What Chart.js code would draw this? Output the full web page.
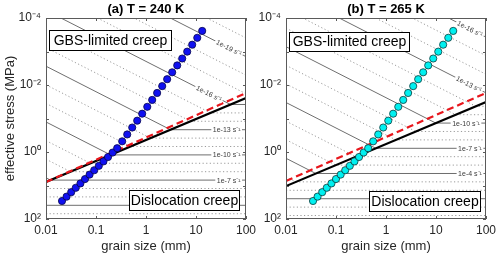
<!DOCTYPE html>
<html>
<head>
<meta charset="utf-8">
<script src="https://cdn.jsdelivr.net/npm/chart.js@4"></script>
<style>
  html, body { margin: 0; padding: 0; background: #fff; }
  #wrap { position: relative; width: 500px; height: 257px; }
  canvas { position: absolute; top: 0; }
</style>
</head>
<body>
<div id="wrap">
  <canvas id="panelA" width="262" height="257" style="left:0"></canvas>
  <canvas id="panelB" width="250" height="257" style="left:250px"></canvas>
</div>
<script>
// axes
const grainRange = [0.01, 100];
const stressRange = [1e-4, 1e2];
const xTicks = [0.01, 0.1, 1, 10, 100];
const xTickLabels = ['0.01', '0.1', '1', '10', '100'];
const yTicks = [1e-4, 1e-2, 1, 1e2];
const yTickLabels = ['10⁻⁴', '10⁻²', '10⁰', '10²'];

// piezometer points (stress is the same for both panels)
const dotStress = [29.0, 21.5, 15.8, 11.7, 8.67, 6.41, 4.73, 3.50, 2.59, 1.91, 1.41, 1.04, 0.771,
  0.480, 0.299, 0.186, 0.116, 0.0719, 0.0448, 0.0279, 0.0173, 0.0108, 0.00671, 0.00418,
  0.00260, 0.00162, 0.00101, 0.000627, 0.000390, 0.000243];
const dotGrainA = [0.0209, 0.0258, 0.0319, 0.0394, 0.0488, 0.0603, 0.0745, 0.0920, 0.114, 0.141, 0.174, 0.215, 0.265,
  0.334, 0.421, 0.530, 0.667, 0.839, 1.06, 1.33, 1.67, 2.11, 2.65, 3.34, 4.21, 5.30, 6.67, 8.39, 10.6, 13.3];
const dotGrainB = [0.0347, 0.0428, 0.0530, 0.0654, 0.0810, 0.100, 0.124, 0.153, 0.189, 0.234, 0.289, 0.357, 0.440,
  0.554, 0.699, 0.880, 1.11, 1.39, 1.76, 2.21, 2.77, 3.50, 4.40, 5.54, 6.99, 8.80, 11.1, 13.9, 17.6, 22.1];

// mechanism boundaries: stress at d = 0.01 and d = 100
const blackStressA = [7.87, 0.0244];
const redStressA = [7.87, 0.0173];
const blackStressB = [10.4, 0.0321];
const redStressB = [7.35, 0.0173];

// strain-rate contours, panel (a): log10 rate, stress at left edge, kink (grain, stress)
const rateExpA = [-21, -20, -19, -18, -17, -16, -15, -14, -13, -12, -11, -10, -9, -8, -7, -6, -5, -4, -3];
const leftStressA = [9.9e-8, 3.56e-7, 1.28e-6, 4.60e-6, 1.65e-5, 5.93e-5, 2.13e-4, 7.65e-4, 2.75e-3, 9.87e-3,
  0.0354, 0.127, 0.457, 1.64, 5.89, 12.3, 21.9, 39.0, 69.5];
const kinkGrainA = [100, 100, 100, 100, 100, 49.0, 19.5, 7.76, 3.09, 1.23, 0.490, 0.195, 0.0776, 0.0309, 0.0123,
  0.01, 0.01, 0.01, 0.01];
const kinkStressA = [1.10e-4, 3.95e-4, 1.42e-3, 5.09e-3, 0.0183, 0.0382, 0.0681, 0.121, 0.216, 0.385,
  0.685, 1.22, 2.17, 3.87, 6.90, 12.3, 21.9, 39.0, 69.5];
const labelRateA = [-19, -16, -13, -10, -7];
const labelGrainA = [45.7, 18.2, 41, 41, 45];

// panel (b)
const rateExpB = [-17, -16, -15, -14, -13, -12, -11, -10, -9, -8, -7, -6, -5, -4, -3, -2, -1, 0, 1];
const leftStressB = [9.33e-8, 3.35e-7, 1.20e-6, 4.33e-6, 1.55e-5, 5.57e-5, 2.00e-4, 7.19e-4, 2.58e-3, 9.27e-3,
  0.0333, 0.120, 0.430, 1.54, 5.53, 13.9, 24.8, 44.2, 78.7];
const kinkGrainB = [100, 100, 100, 100, 100, 62.5, 24.9, 9.91, 3.94, 1.57, 0.625, 0.249, 0.0991, 0.0394, 0.0157,
  0.01, 0.01, 0.01, 0.01];
const kinkStressB = [1.03e-4, 3.72e-4, 1.33e-3, 4.79e-3, 0.0172, 0.0432, 0.0771, 0.137, 0.244, 0.435,
  0.776, 1.38, 2.46, 4.38, 7.78, 13.9, 24.8, 44.2, 78.7];
const labelRateB = [-16, -13, -10, -7, -4];
const labelGrainB = [47.9, 45.7, 39.8, 47.9, 47.9];

const FONT = "'Liberation Sans', Arial, Helvetica, sans-serif";

function contourPoints(p, k) {
  return [
    { x: grainRange[0], y: p.leftStress[k] },
    { x: p.kinkGrain[k], y: p.kinkStress[k] },
    { x: grainRange[1], y: p.kinkStress[k] },
  ];
}

// frame, ticks, contour labels, text boxes, title
const decor = {
  id: 'decor',
  afterDraw(chart, args, opts) {
    const p = opts.panel;
    const { ctx, chartArea: a } = chart;
    const xs = chart.scales.x, ys = chart.scales.y;
    ctx.save();

    // contour labels
    ctx.font = '7px ' + FONT;
    ctx.textAlign = 'center';
    ctx.textBaseline = 'middle';
    p.labelRate.forEach((n, i) => {
      const k = p.rateExp.indexOf(n);
      const pts = contourPoints(p, k).map(d => [xs.getPixelForValue(d.x), ys.getPixelForValue(d.y)]);
      const lx = xs.getPixelForValue(p.labelGrain[i]);
      let seg = 0;
      for (let s = 0; s < pts.length - 1; s++) {
        if (lx >= pts[s][0] && lx <= pts[s + 1][0] && pts[s + 1][0] > pts[s][0]) seg = s;
      }
      const [x0, y0] = pts[seg], [x1, y1] = pts[seg + 1];
      const ly = y0 + (y1 - y0) * (lx - x0) / (x1 - x0);
      const ang = Math.atan2(y1 - y0, x1 - x0);
      const txt = '1e' + n + ' s⁻¹';
      const w = ctx.measureText(txt).width;
      ctx.save();
      ctx.translate(lx, ly);
      ctx.rotate(ang);
      ctx.fillStyle = '#fff';
      ctx.fillRect(-w / 2 - 1.5, -3.5, w + 3, 7);
      ctx.fillStyle = '#3a3a3a';
      ctx.fillText(txt, 0, 0.5);
      ctx.restore();
    });

    // text boxes
    p.boxes.forEach(b => {
      const bx = a.left + b.left, by = a.top + b.top;
      ctx.fillStyle = '#fff';
      ctx.fillRect(bx, by, b.w, b.h);
      ctx.strokeStyle = '#000';
      ctx.lineWidth = 1;
      ctx.strokeRect(bx + 0.5, by + 0.5, b.w - 1, b.h - 1);
      ctx.fillStyle = '#000';
      ctx.font = '14px ' + FONT;
      ctx.textAlign = 'center';
      ctx.textBaseline = 'middle';
      ctx.fillText(b.text, bx + b.w / 2, by + b.h / 2 + 0.5);
    });

    // frame
    ctx.strokeStyle = '#5a5a5a';
    ctx.lineWidth = 1;
    ctx.strokeRect(a.left + 0.5, a.top + 0.5, a.width - 1, a.height - 1);

    // inward ticks
    ctx.beginPath();
    xTicks.forEach(v => {
      const px = Math.round(xs.getPixelForValue(v)) + 0.5;
      ctx.moveTo(px, a.bottom); ctx.lineTo(px, a.bottom - 3);
      ctx.moveTo(px, a.top); ctx.lineTo(px, a.top + 3);
    });
    for (let e = -4; e <= 2; e++) {
      const py = Math.round(ys.getPixelForValue(Math.pow(10, e))) + 0.5;
      ctx.moveTo(a.left, py); ctx.lineTo(a.left + 3, py);
      ctx.moveTo(a.right, py); ctx.lineTo(a.right - 3, py);
    }
    ctx.stroke();

    // title
    ctx.fillStyle = '#000';
    ctx.font = 'bold 13px ' + FONT;
    ctx.textAlign = 'center';
    ctx.textBaseline = 'middle';
    ctx.fillText(p.title, (a.left + a.right) / 2, 9);
    ctx.restore();
  }
};

function buildPanel(id, p) {
  const datasets = [];
  datasets.push({
    data: p.dotGrain.map((g, i) => ({ x: g, y: dotStress[i] })),
    showLine: false, pointRadius: 3.6, pointBackgroundColor: p.dotColor,
    pointBorderColor: p.dotEdge, pointBorderWidth: 0.8, order: 0,
  });
  datasets.push({
    data: [{ x: grainRange[0], y: p.red[0] }, { x: grainRange[1], y: p.red[1] }],
    showLine: true, borderColor: '#e8161c', borderWidth: 2.2, borderDash: [7, 4],
    pointRadius: 0, order: 1,
  });
  datasets.push({
    data: [{ x: grainRange[0], y: p.black[0] }, { x: grainRange[1], y: p.black[1] }],
    showLine: true, borderColor: '#000', borderWidth: 2.2, pointRadius: 0, order: 2,
  });
  p.rateExp.forEach((n, k) => {
    const solid = (n + 1) % 3 === 0;
    datasets.push({
      data: contourPoints(p, k),
      showLine: true, pointRadius: 0, order: 3,
      borderColor: solid ? '#6e6e6e' : '#8e8e8e',
      borderWidth: solid ? 1 : 0.9,
      borderDash: solid ? [] : [1.2, 2.4],
    });
  });

  return new Chart(document.getElementById(id), {
    type: 'scatter',
    data: { datasets },
    options: {
      responsive: false,
      animation: false,
      events: [],
      layout: { padding: { top: 18, right: p.padRight, bottom: 0, left: 0 } },
      plugins: { legend: { display: false }, tooltip: { enabled: false }, decor: { panel: p } },
      scales: {
        x: {
          type: 'logarithmic', min: grainRange[0], max: grainRange[1],
          afterBuildTicks: s => { s.ticks = xTicks.map(v => ({ value: v })); },
          ticks: {
            callback: (v, i) => xTickLabels[i], autoSkip: false, maxRotation: 0,
            font: { family: FONT, size: 12 }, color: '#262626', padding: 4,
          },
          grid: { display: false, drawTicks: false },
          border: { display: false },
          title: {
            display: true, text: 'grain size (mm)', color: '#262626',
            font: { family: FONT, size: 13 }, padding: { top: 0, bottom: 3 },
          },
          afterFit: s => { s.height = 38; s.paddingLeft = 0; s.paddingRight = 0; },
        },
        y: {
          type: 'logarithmic', reverse: true, min: stressRange[0], max: stressRange[1],
          afterBuildTicks: s => { s.ticks = yTicks.map(v => ({ value: v })); },
          ticks: {
            callback: (v, i) => yTickLabels[i], autoSkip: false,
            font: { family: FONT, size: 12 }, color: '#262626', padding: 5,
          },
          grid: { display: false, drawTicks: false },
          border: { display: false },
          title: {
            display: p.yTitle, text: 'effective stress (MPa)', color: '#262626',
            font: { family: FONT, size: 13 }, padding: { top: 3, bottom: 0 },
          },
          afterFit: s => { s.width = p.yWidth; s.paddingTop = 0; s.paddingBottom = 0; },
        },
      },
    },
    plugins: [decor],
  });
}

buildPanel('panelA', {
  title: '(a) T = 240 K',
  dotGrain: dotGrainA, dotColor: '#1010f0', dotEdge: '#08084a',
  black: blackStressA, red: redStressA,
  rateExp: rateExpA, leftStress: leftStressA, kinkGrain: kinkGrainA, kinkStress: kinkStressA,
  labelRate: labelRateA, labelGrain: labelGrainA,
  yTitle: true, yWidth: 46, padRight: 16,
  boxes: [
    { text: 'GBS-limited creep', left: 3, top: 12, w: 123, h: 21 },
    { text: 'Dislocation creep', left: 83, top: 172, w: 111, h: 21 },
  ],
});

buildPanel('panelB', {
  title: '(b) T = 265 K',
  dotGrain: dotGrainB, dotColor: '#00f0f0', dotEdge: '#0c3a3a',
  black: blackStressB, red: redStressB,
  rateExp: rateExpB, leftStress: leftStressB, kinkGrain: kinkGrainB, kinkStress: kinkStressB,
  labelRate: labelRateB, labelGrain: labelGrainB,
  yTitle: false, yWidth: 36, padRight: 14,
  boxes: [
    { text: 'GBS-limited creep', left: 3, top: 14, w: 121, h: 20 },
    { text: 'Dislocation creep', left: 83, top: 173, w: 112, h: 21 },
  ],
});
</script>
</body>
</html>
